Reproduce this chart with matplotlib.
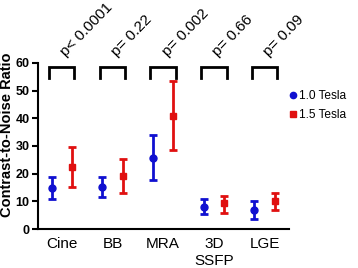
import matplotlib
matplotlib.use("Agg")
import matplotlib.pyplot as plt
import numpy as np

categories = ["Cine", "BB", "MRA", "3D\nSSFP", "LGE"]
p_labels = ["p< 0.0001", "p= 0.22", "p= 0.002", "p= 0.66", "p= 0.09"]

t10_mean = [14.7, 15.1, 25.6, 8.1, 6.9]
t10_low = [10.8, 11.4, 17.6, 5.4, 3.6]
t10_high = [18.7, 18.8, 33.9, 10.8, 10.3]

t15_mean = [22.4, 19.0, 40.9, 9.3, 10.1]
t15_low = [15.1, 12.9, 28.4, 5.7, 6.9]
t15_high = [29.8, 25.4, 53.4, 12.1, 12.9]

plt.rcParams['font.family'] = ['Liberation Sans', 'DejaVu Sans']

fig = plt.figure(figsize=(3.58, 2.68), dpi=100)
ax = fig.add_axes([0.106, 0.1455, 0.701, 0.6195])

x = np.arange(len(categories))
off = 0.2
blue = "#1010d0"
red = "#e01010"

m = np.array(t10_mean)
ax.errorbar(x - off, m, yerr=[m - np.array(t10_low), np.array(t10_high) - m],
            fmt='o', color=blue, ms=5, elinewidth=2, capsize=3, capthick=2,
            label="1.0 Tesla", clip_on=False)
m = np.array(t15_mean)
ax.errorbar(x + off, m, yerr=[m - np.array(t15_low), np.array(t15_high) - m],
            fmt='s', color=red, ms=5, elinewidth=2, capsize=3, capthick=2,
            label="1.5 Tesla", clip_on=False)

# brackets and p-values
for i, p in enumerate(p_labels):
    bx = [i - 0.25, i - 0.25, i + 0.25, i + 0.25]
    by = [54.5, 58.7, 58.7, 54.5]
    ax.plot(bx, by, color='black', lw=2, clip_on=False, solid_joinstyle='miter')
    ax.text(i + 0.13, 61.5, p, rotation=46, rotation_mode='anchor',
            ha='left', va='bottom', fontsize=11, clip_on=False)

ax.set_xlim(-0.47, 4.48)
ax.set_ylim(0, 60)
ax.set_yticks([0, 10, 20, 30, 40, 50, 60])
ax.set_xticks(x)
ax.set_xticklabels(categories, fontsize=11)
ax.tick_params(axis='x', length=0, pad=6)
ax.tick_params(axis='y', width=1.5, length=4, labelsize=9, pad=2)
for lab in ax.get_yticklabels():
    lab.set_fontweight('bold')
ax.set_ylabel("Contrast-to-Noise Ratio", fontsize=10.5, fontweight='bold')
ax.yaxis.set_label_coords(-0.095, 0.569)
for s in ['top', 'right']:
    ax.spines[s].set_visible(False)
for s in ['left', 'bottom']:
    ax.spines[s].set_linewidth(1.5)

handles, labels = ax.get_legend_handles_labels()
handles = [h[0] for h in handles]
ax.legend(handles, labels, loc='upper left', bbox_to_anchor=(0.983, 0.85),
          frameon=False, fontsize=8.6, handletextpad=0.0, handlelength=1.0,
          borderaxespad=0.0, borderpad=0.2, labelspacing=0.55, markerscale=0.9)

fig.savefig("out.png", dpi=100)
